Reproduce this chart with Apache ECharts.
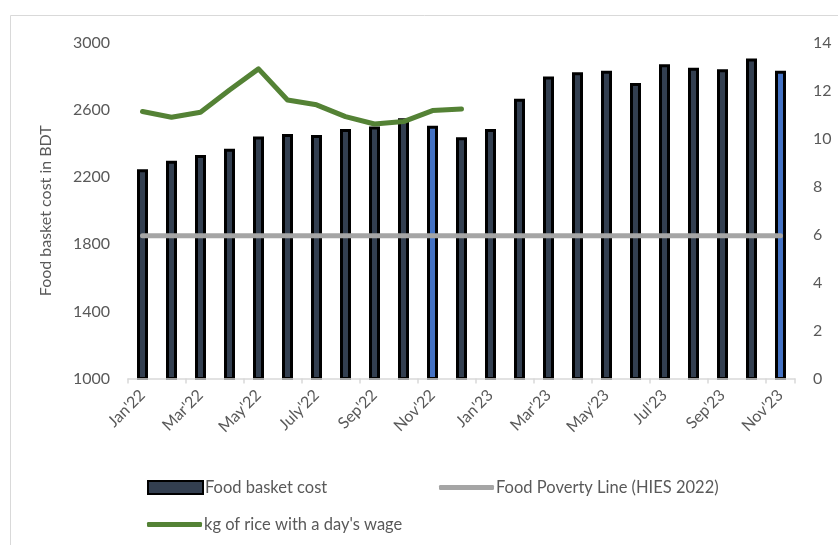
<!DOCTYPE html>
<html>
<head>
<meta charset="utf-8">
<script src="https://cdn.jsdelivr.net/npm/echarts@6/dist/echarts.min.js"></script>
<style>
  html, body { margin: 0; padding: 0; background: #fff; }
  #chart { width: 838px; height: 545px; }
</style>
</head>
<body>
<div id="chart"></div>
<script>
const months = ["Jan'22", "Feb'22", "Mar'22", "Apr'22", "May'22", "Jun'22", "July'22", "Aug'22",
    "Sep'22", "Oct'22", "Nov'22", "Dec'22", "Jan'23", "Feb'23", "Mar'23", "Apr'23", "May'23",
    "Jun'23", "Jul'23", "Aug'23", "Sep'23", "Oct'23", "Nov'23"];
const basketCost = [2248, 2298, 2333, 2369, 2442, 2457, 2452, 2488, 2502, 2552, 2506, 2438,
    2488, 2667, 2800, 2825, 2835, 2762, 2873, 2853, 2843, 2907, 2835];
const highlightMonths = ["Nov'22", "Nov'23"];
const povertyLine = months.map(() => 1851);
const riceKg = [11.14, 10.9, 11.11, 12.04, 12.92, 11.62, 11.42, 10.93, 10.62, 10.72, 11.18, 11.25];

const FONT = 'Lato';
const TEXT = '#595959';

const chart = echarts.init(document.getElementById('chart'));

const barData = basketCost.map((v, i) => {
    if (highlightMonths.includes(months[i])) {
        return { value: v, itemStyle: { color: '#4472C4' } };
    }
    return v;
});

const legendText = { fontSize: 16.5, color: TEXT, padding: [0, 0, 0, -3] };

chart.setOption({
    animation: false,
    textStyle: { fontFamily: FONT },
    graphic: [{
        type: 'rect',
        left: 8, top: 13,
        shape: { width: 840, height: 545 },
        style: { fill: 'none', stroke: '#D9D9D9', lineWidth: 1 },
        silent: true
    }],
    grid: { left: 128, right: 43, top: 43, bottom: 166.5 },
    legend: [
        {
            left: 142, top: 474,
            itemWidth: 55, itemHeight: 13,
            icon: 'rect',
            textStyle: legendText,
            data: ['Food basket cost']
        },
        {
            left: 434, top: 474,
            itemWidth: 55, itemHeight: 5,
            icon: 'roundRect',
            textStyle: legendText,
            data: ['Food Poverty Line (HIES 2022)']
        },
        {
            left: 142, top: 511,
            itemWidth: 55, itemHeight: 5,
            icon: 'roundRect',
            textStyle: legendText,
            data: ["kg of rice with a day's wage"]
        }
    ],
    xAxis: {
        type: 'category',
        data: months,
        axisLine: { lineStyle: { color: '#D9D9D9', width: 1.5 } },
        axisTick: { show: true, length: 5, lineStyle: { color: '#D9D9D9', width: 1.5 } },
        axisLabel: {
            interval: 1,
            rotate: 45,
            fontSize: 16,
            color: TEXT,
            margin: 14
        },
        z: 5
    },
    yAxis: [
        {
            type: 'value',
            min: 1000, max: 3000, interval: 400,
            name: 'Food basket cost in BDT',
            nameLocation: 'middle',
            nameGap: 74,
            nameTextStyle: { fontSize: 16, color: TEXT },
            axisLine: { show: false },
            axisTick: { show: false },
            splitLine: { show: false },
            axisLabel: { fontSize: 16, color: TEXT, margin: 18, formatter: v => String(v) }
        },
        {
            type: 'value',
            min: 0, max: 14, interval: 2,
            position: 'right',
            axisLine: { show: false },
            axisTick: { show: false },
            splitLine: { show: false },
            axisLabel: { fontSize: 16, color: TEXT, margin: 18 }
        }
    ],
    series: [
        {
            name: 'Food basket cost',
            type: 'bar',
            data: barData,
            barWidth: 11,
            itemStyle: { color: '#333F50', borderColor: '#000', borderWidth: 3 },
            z: 2
        },
        {
            name: 'Food Poverty Line (HIES 2022)',
            type: 'line',
            data: povertyLine,
            symbol: 'none',
            lineStyle: { color: '#A5A5A5', width: 5, cap: 'round' },
            itemStyle: { color: '#A5A5A5' },
            z: 3
        },
        {
            name: "kg of rice with a day's wage",
            type: 'line',
            yAxisIndex: 1,
            data: riceKg,
            symbol: 'none',
            lineStyle: { color: '#548235', width: 5, cap: 'round', join: 'round' },
            itemStyle: { color: '#548235' },
            z: 4
        }
    ]
});

window.addEventListener('resize', () => chart.resize());
</script>
</body>
</html>
